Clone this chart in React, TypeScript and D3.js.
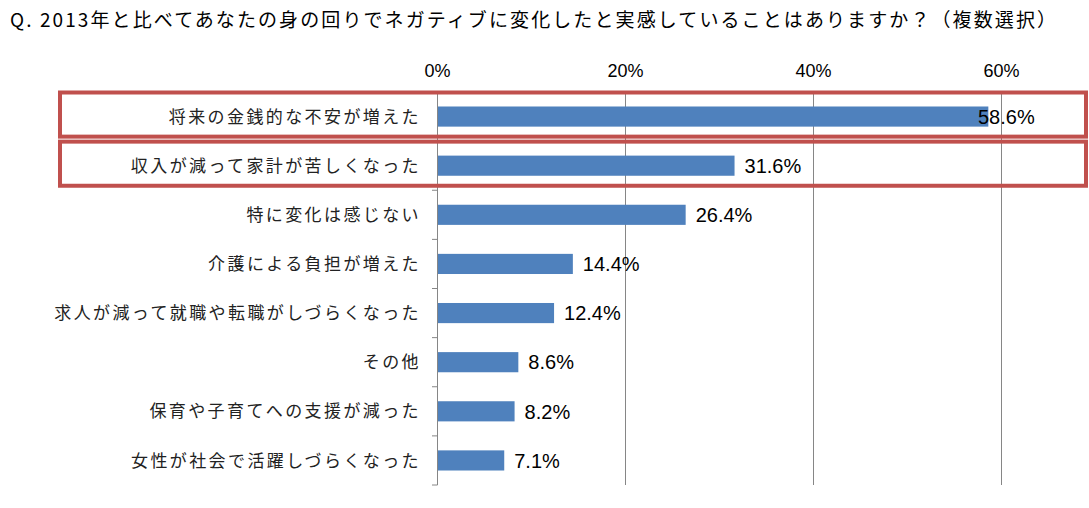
import * as d3 from "d3";

const categories = [
  "将来の金銭的な不安が増えた",
  "収入が減って家計が苦しくなった",
  "特に変化は感じない",
  "介護による負担が増えた",
  "求人が減って就職や転職がしづらくなった",
  "その他",
  "保育や子育てへの支援が減った",
  "女性が社会で活躍しづらくなった",
];
const values = [58.6, 31.6, 26.4, 14.4, 12.4, 8.6, 8.2, 7.1];
const ticks = [0, 20, 40, 60];
const highlighted = [0, 1];
const title =
  "Q. 2013年と比べてあなたの身の回りでネガティブに変化したと実感していることはありますか？（複数選択）";

const W = 1089;
const H = 508;
const jp = "'Noto Sans CJK JP', sans-serif";
const latin = "'Liberation Sans', Arial, sans-serif";

export default function App() {
  const x = d3.scaleLinear().domain([0, 60]).range([437.5, 1001.5]);
  const y = d3
    .scaleBand<string>()
    .domain(categories)
    .range([92, 485])
    .paddingInner(0.59)
    .paddingOuter(0.295);
  const step = y.step();
  const bandTop = (i: number) => 92 + i * step;
  const bounds = d3.range(categories.length + 1).map((i) => bandTop(i));
  const grey = "#868686";

  return (
    <svg
      width={W}
      height={H}
      style={{ position: "absolute", left: 0, top: 0, background: "#fff" }}
    >
      <text
        x={10}
        y={27}
        fontFamily={jp}
        fontSize={19}
        letterSpacing={2.1}
        fill="#000"
      >
        {title}
      </text>

      {ticks.map((t) => (
        <g key={t}>
          <text
            x={x(t)}
            y={77}
            textAnchor="middle"
            fontFamily={latin}
            fontSize={18}
            fill="#000"
          >
            {t}%
          </text>
          {t > 0 && (
            <line
              x1={x(t)}
              x2={x(t)}
              y1={92}
              y2={485}
              stroke={grey}
              strokeWidth={1}
            />
          )}
        </g>
      ))}

      {categories.map((c, i) => (
        <g key={c}>
          <rect
            x={x(0)}
            y={y(c)}
            width={x(values[i]) - x(0)}
            height={y.bandwidth()}
            fill="#4f81bd"
          />
          <text
            x={Math.min(x(values[i]) + 10, 978)}
            y={(y(c) as number) + y.bandwidth() / 2}
            dy="0.36em"
            fontFamily={latin}
            fontSize={20}
            fill="#000"
          >
            {values[i].toFixed(1)}%
          </text>
          <text
            x={421}
            y={(y(c) as number) + y.bandwidth() / 2}
            dy="0.36em"
            textAnchor="end"
            fontFamily={jp}
            fontSize={17}
            letterSpacing={2.4}
            fill="#222"
          >
            {c}
          </text>
        </g>
      ))}

      <line x1={437.5} x2={437.5} y1={92} y2={485} stroke={grey} />
      {bounds.map((b, i) => (
        <line key={i} x1={432} x2={437.5} y1={b} y2={b} stroke={grey} />
      ))}

      {highlighted.map((i) => (
        <rect
          key={i}
          x={60}
          y={bandTop(i) + 0.5}
          width={1026}
          height={step - 5}
          fill="none"
          stroke="#c0504d"
          strokeWidth={4}
        />
      ))}
    </svg>
  );
}
